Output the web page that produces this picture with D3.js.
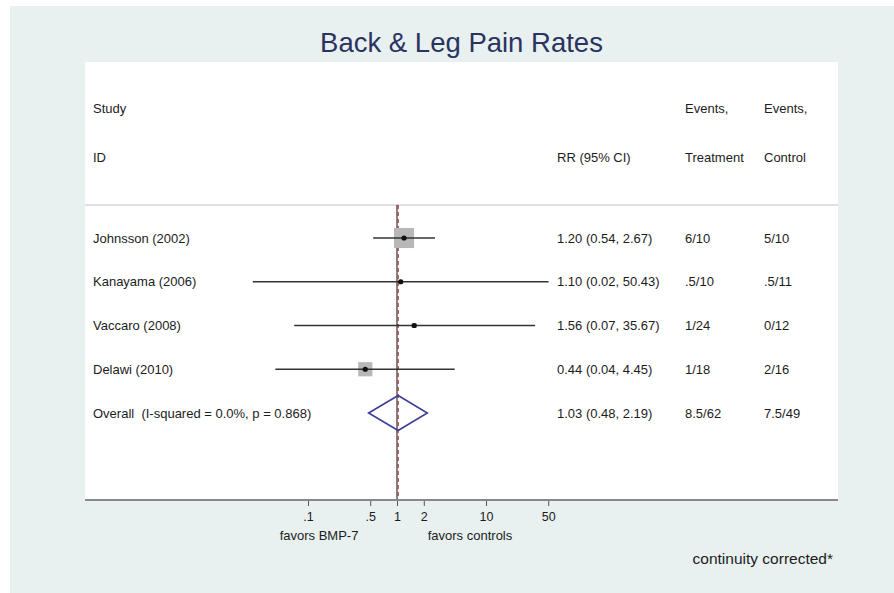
<!DOCTYPE html>
<html>
<head>
<meta charset="utf-8">
<script src="https://cdn.jsdelivr.net/npm/d3@7"></script>
<style>
  body { margin: 0; background: #fff; }
  svg text { font-family: 'Liberation Sans', Arial, sans-serif; fill: #1c1c1c; white-space: pre; }
</style>
</head>
<body>
<svg id="forest"></svg>
<script>
const studies = ['Johnsson (2002)', 'Kanayama (2006)', 'Vaccaro (2008)', 'Delawi (2010)'];
const rr = [1.20, 1.10, 1.56, 0.44];
const ciLow = [0.54, 0.024, 0.07, 0.043];
const ciHigh = [2.67, 50.43, 35.67, 4.45];
const weights = [62, 3, 4, 31];
const rrLabels = ['1.20 (0.54, 2.67)', '1.10 (0.02, 50.43)', '1.56 (0.07, 35.67)', '0.44 (0.04, 4.45)'];
const eventsTreat = ['6/10', '.5/10', '1/24', '1/18'];
const eventsCtrl = ['5/10', '.5/11', '0/12', '2/16'];

const overallLabel = 'Overall  (I-squared = 0.0%, p = 0.868)';
const overall = { rr: 1.03, lo: 0.48, hi: 2.19 };
const overallText = ['1.03 (0.48, 2.19)', '8.5/62', '7.5/49'];

const tickValues = [0.1, 0.5, 1, 2, 10, 50];
const tickLabels = ['.1', '.5', '1', '2', '10', '50'];

(() => {
  const width = 894;
  const height = 593;
  const panel = { left: 85, right: 838, top: 62, bottom: 500 };

  const svg = d3.select('svg#forest')
    .attr('width', width)
    .attr('height', height);

  svg.append('rect')
    .attr('x', 10).attr('y', 6)
    .attr('width', width - 10).attr('height', height - 6)
    .attr('fill', '#e8f0f0');

  svg.append('rect')
    .attr('x', panel.left).attr('y', panel.top)
    .attr('width', panel.right - panel.left).attr('height', panel.bottom - panel.top)
    .attr('fill', '#fff');

  svg.append('text')
    .attr('x', (panel.left + panel.right) / 2)
    .attr('y', 42)
    .attr('dy', '0.35em')
    .attr('text-anchor', 'middle')
    .style('font-size', '27.5px')
    .style('fill', '#2b3460')
    .text('Back & Leg Pain Rates');

  const xScale = d3.scaleLog()
    .domain([0.1, 10])
    .range([308, 486]);

  const rows = studies.concat(['Overall']);
  const yScale = d3.scalePoint()
    .domain(rows)
    .range([238, 413]);

  // headers
  const cols = { study: 93, rr: 557, treat: 685, ctrl: 764 };
  const headers = [
    [cols.study, 108, 'Study'], [cols.study, 157, 'ID'],
    [cols.rr, 157, 'RR (95% CI)'],
    [cols.treat, 108, 'Events,'], [cols.treat, 157, 'Treatment'],
    [cols.ctrl, 108, 'Events,'], [cols.ctrl, 157, 'Control']
  ];
  svg.append('g').selectAll('text')
    .data(headers)
    .enter()
    .append('text')
    .attr('x', d => d[0])
    .attr('y', d => d[1])
    .attr('dy', '0.35em')
    .style('font-size', '13px')
    .text(d => d[2]);

  svg.append('line')
    .attr('x1', panel.left).attr('x2', panel.right)
    .attr('y1', 205).attr('y2', 205)
    .attr('stroke', '#d4d4d4')
    .attr('stroke-width', 1.5);

  // null line and overall line
  svg.append('line')
    .attr('x1', xScale(1)).attr('x2', xScale(1))
    .attr('y1', 205).attr('y2', panel.bottom)
    .attr('stroke', '#333')
    .attr('stroke-width', 1.2);

  svg.append('line')
    .attr('x1', xScale(overall.rr)).attr('x2', xScale(overall.rr))
    .attr('y1', 205).attr('y2', panel.bottom)
    .attr('stroke', '#b03a3a')
    .attr('stroke-width', 1.3)
    .attr('stroke-dasharray', '4,3');

  const idx = d3.range(studies.length);
  const boxSize = i => 2.55 * Math.sqrt(weights[i]);

  svg.append('g').selectAll('rect')
    .data(idx)
    .enter()
    .append('rect')
    .attr('x', i => xScale(rr[i]) - boxSize(i) / 2)
    .attr('y', i => yScale(studies[i]) - boxSize(i) / 2)
    .attr('width', boxSize)
    .attr('height', boxSize)
    .attr('fill', '#b8b8b8');

  svg.append('g').selectAll('line')
    .data(idx)
    .enter()
    .append('line')
    .attr('x1', i => xScale(ciLow[i]))
    .attr('x2', i => xScale(ciHigh[i]))
    .attr('y1', i => yScale(studies[i]))
    .attr('y2', i => yScale(studies[i]))
    .attr('stroke', '#333')
    .attr('stroke-width', 1.5);

  svg.append('g').selectAll('circle')
    .data(idx)
    .enter()
    .append('circle')
    .attr('cx', i => xScale(rr[i]))
    .attr('cy', i => yScale(studies[i]))
    .attr('r', 2.6)
    .attr('fill', '#111');

  // overall diamond
  const oy = yScale('Overall');
  const dh = 17.5;
  svg.append('path')
    .attr('d', `M${xScale(overall.lo)},${oy} L${xScale(overall.rr)},${oy - dh} L${xScale(overall.hi)},${oy} L${xScale(overall.rr)},${oy + dh} Z`)
    .attr('fill', 'none')
    .attr('stroke', '#3d3d99')
    .attr('stroke-width', 1.6);

  // text columns
  const rowText = [];
  idx.forEach(i => {
    rowText.push([cols.study, studies[i], yScale(studies[i])]);
    rowText.push([cols.rr, rrLabels[i], yScale(studies[i])]);
    rowText.push([cols.treat, eventsTreat[i], yScale(studies[i])]);
    rowText.push([cols.ctrl, eventsCtrl[i], yScale(studies[i])]);
  });
  rowText.push([cols.study, overallLabel, oy]);
  rowText.push([cols.rr, overallText[0], oy]);
  rowText.push([cols.treat, overallText[1], oy]);
  rowText.push([cols.ctrl, overallText[2], oy]);

  svg.append('g').selectAll('text')
    .data(rowText)
    .enter()
    .append('text')
    .attr('x', d => d[0])
    .attr('y', d => d[2])
    .attr('dy', '0.35em')
    .style('font-size', '13px')
    .text(d => d[1]);

  // axis
  const axis = svg.append('g')
    .attr('transform', `translate(0,${panel.bottom})`)
    .call(d3.axisBottom(xScale)
      .tickValues(tickValues)
      .tickFormat((d, i) => tickLabels[i])
      .tickSize(6)
      .tickPadding(6));
  axis.select('.domain').remove();
  axis.selectAll('line').attr('stroke', '#555');
  axis.selectAll('text')
    .style('font-size', '12.5px')
    .style('font-family', "'Liberation Sans', Arial, sans-serif")
    .attr('fill', '#1c1c1c');

  svg.append('line')
    .attr('x1', panel.left).attr('x2', panel.right)
    .attr('y1', panel.bottom).attr('y2', panel.bottom)
    .attr('stroke', '#888')
    .attr('stroke-width', 2);

  svg.append('text')
    .attr('x', 319).attr('y', 535)
    .attr('dy', '0.35em')
    .attr('text-anchor', 'middle')
    .style('font-size', '13px')
    .text('favors BMP-7');

  svg.append('text')
    .attr('x', 470).attr('y', 535)
    .attr('dy', '0.35em')
    .attr('text-anchor', 'middle')
    .style('font-size', '13px')
    .text('favors controls');

  svg.append('text')
    .attr('x', 833).attr('y', 559)
    .attr('dy', '0.35em')
    .attr('text-anchor', 'end')
    .style('font-size', '15.5px')
    .text('continuity corrected*');
})();
</script>
</body>
</html>
